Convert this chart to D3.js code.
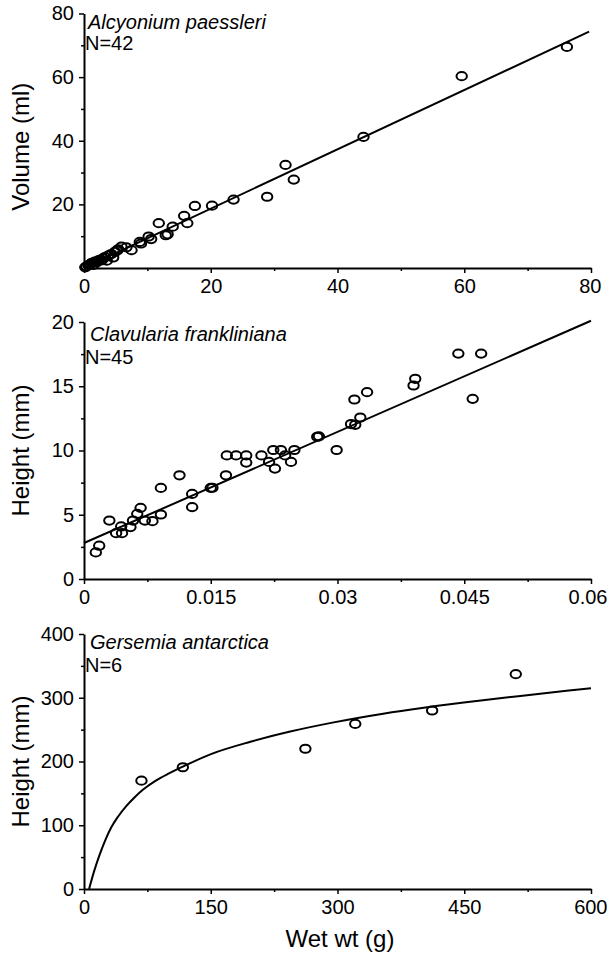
<!DOCTYPE html>
<html>
<head>
<meta charset="utf-8">
<script src="https://cdn.jsdelivr.net/npm/d3@7/dist/d3.min.js"></script>
<style>
  html, body { margin: 0; padding: 0; background: #fff; }
  svg { display: block; }
  text { font-family: "Liberation Sans", Arial, Helvetica, sans-serif; fill: #000; }
</style>
</head>
<body>
<svg id="chart" width="608" height="955"></svg>
<script>
// ---------- DATA ----------
// Panel 1: Alcyonium paessleri (Wet wt g vs Volume ml)
const alcyoniumPoints = [
  [0.2,0.2],[0.4,0.5],[0.7,0.9],[1.0,1.2],[1.2,1.6],[1.5,1.0],[1.7,2.0],[2.0,1.8],
  [2.2,2.3],[2.5,2.6],[2.8,2.4],[3.0,3.0],[3.3,3.4],[3.6,2.3],[3.8,3.9],[4.3,4.4],
  [4.6,3.3],[4.9,5.1],[5.2,5.5],[5.4,5.9],[5.9,6.7],[6.7,6.5],[7.5,5.6],[8.8,8.2],
  [9.0,7.7],[10.2,9.9],[10.6,9.1],[11.8,14.1],[12.9,10.3],[13.2,10.6],[14.0,13.0],
  [15.8,16.4],[16.3,14.1],[17.5,19.5],[20.2,19.6],[23.6,21.5],[28.9,22.4],[31.8,32.4],
  [33.1,27.8],[44.1,41.2],[59.6,60.3],[76.2,69.5]
];
const alcyoniumFit = [[0,0],[79.7,74.3]];
const alcyoniumXTicks = [0,20,40,60,80];
const alcyoniumXMinor = [10,30,50,70];
const alcyoniumYTicks = [20,40,60,80];
const alcyoniumYMinor = [10,30,50,70];

// Panel 2: Clavularia frankliniana (Wet wt g vs Height mm)
const clavulariaPoints = [
  [0.0014,2.07],[0.0018,2.59],[0.0030,4.55],[0.0038,3.57],[0.0044,4.09],[0.0045,3.57],
  [0.0055,4.04],[0.0058,4.55],[0.0063,5.07],[0.0067,5.54],[0.0072,4.55],[0.0081,4.50],
  [0.0091,5.02],[0.0091,7.09],[0.0113,8.07],[0.0128,6.62],[0.0128,5.59],[0.0150,7.09],
  [0.0152,7.10],[0.0168,8.07],[0.0169,9.62],[0.0180,9.62],[0.0192,9.62],[0.0192,9.06],
  [0.0210,9.62],[0.0219,9.11],[0.0224,10.04],[0.0226,8.59],[0.0233,10.04],[0.0238,9.62],
  [0.0245,9.11],[0.0249,10.04],[0.0276,11.07],[0.0278,11.10],[0.0299,10.04],[0.0316,12.06],
  [0.0321,12.00],[0.0327,12.57],[0.0320,13.97],[0.0335,14.54],[0.0390,15.06],[0.0392,15.58],
  [0.0443,17.54],[0.0470,17.54],[0.0460,14.02]
];
const clavulariaFit = [[0,2.8],[0.06,20.1]];
const clavulariaXTicks = [0,0.015,0.03,0.045,0.06];
const clavulariaXLabels = ["0","0.015","0.03","0.045","0.06"];
const clavulariaXMinor = [0.0075,0.0225,0.0375,0.0525];
const clavulariaYTicks = [0,5,10,15,20];
const clavulariaYMinor = [2.5,7.5,12.5,17.5];

// Panel 3: Gersemia antarctica (Wet wt g vs Height mm)
const gersemiaPoints = [
  [68,170],[117,191],[262,220],[321,259],[412,280],[511,337]
];
const gersemiaFit = [
  [6,0],[12,28],[18,52],[25,76],[32,96],[40,113],[50,130],[60,144],[70,156],[85,170],
  [100,181],[117,192],[151,212],[197,231],[244,247],[294,261],[354,275],[400,284],
  [447,292],[511,302],[571,311],[600,315]
];
const gersemiaXTicks = [0,150,300,450,600];
const gersemiaXMinor = [75,225,375,525];
const gersemiaYTicks = [0,100,200,300,400];
const gersemiaYMinor = [50,150,250,350];

// ---------- DRAWING ----------
const svg = d3.select("#chart");
const X0 = 84, X1 = 591;

function panel(cfg) {
  const g = svg.append("g");
  const x = d3.scaleLinear().domain(cfg.xDomain).range([X0, X1]);
  const y = d3.scaleLinear().domain(cfg.yDomain).range([cfg.bottom, cfg.top]);

  const xAxis = d3.axisBottom(x).tickValues(cfg.xTicks).tickSize(5).tickPadding(6).tickSizeOuter(0)
    .tickFormat((d, i) => cfg.xLabels ? cfg.xLabels[i] : String(d));
  const yAxis = d3.axisLeft(y).tickValues(cfg.yTicks).tickSize(5).tickPadding(5).tickSizeOuter(0)
    .tickFormat(d => String(d));
  const xAxisMinor = d3.axisBottom(x).tickValues(cfg.xMinor).tickSize(3).tickSizeOuter(0).tickFormat("");
  const yAxisMinor = d3.axisLeft(y).tickValues(cfg.yMinor).tickSize(3).tickSizeOuter(0).tickFormat("");

  const gx = g.append("g").attr("transform", `translate(0,${cfg.bottom})`).call(xAxis);
  g.append("g").attr("transform", `translate(0,${cfg.bottom})`).call(xAxisMinor).select(".domain").remove();
  const gy = g.append("g").attr("transform", `translate(${X0},0)`).call(yAxis);
  g.append("g").attr("transform", `translate(${X0},0)`).call(yAxisMinor).select(".domain").remove();

  g.selectAll(".domain").attr("stroke", "#000").attr("stroke-width", 2);
  g.selectAll(".tick line").attr("stroke", "#000").attr("stroke-width", 1.5);
  g.selectAll(".tick text").style("font-size", "20px").style("font-family", '"Liberation Sans", Arial, sans-serif').attr("fill", "#000");
  // keep the last x label inside the page
  gx.selectAll(".tick text").filter((d, i, n) => i === n.length - 1)
    .attr("text-anchor", "end").attr("dx", cfg.lastLabelDx);

  const line = d3.line().x(d => x(d[0])).y(d => y(d[1]));
  if (cfg.curve) line.curve(d3.curveMonotoneX);
  g.append("path").datum(cfg.fit).attr("d", line)
    .attr("fill", "none").attr("stroke", "#000").attr("stroke-width", 2);

  g.selectAll("ellipse.pt").data(cfg.points).join("ellipse").attr("class", "pt")
    .attr("cx", d => x(d[0])).attr("cy", d => y(d[1]))
    .attr("rx", 5.2).attr("ry", 4.1)
    .attr("fill", "none").attr("stroke", "#000").attr("stroke-width", 2);

  g.append("text").attr("x", cfg.nameX).attr("y", cfg.top + cfg.nameDy)
    .style("font-size", "20px").style("font-style", "italic").text(cfg.name);
  g.append("text").attr("x", 85).attr("y", cfg.top + cfg.nDy)
    .style("font-size", "20px").text(cfg.n);

  g.append("text")
    .attr("transform", `translate(29,${(cfg.top + cfg.bottom) / 2 + cfg.titleShift}) rotate(-90)`)
    .attr("text-anchor", "middle").style("font-size", "24px").text(cfg.yTitle);
  return x;
}

panel({
  xDomain: [0, 80], yDomain: [0, 80], top: 13.5, bottom: 268,
  xTicks: alcyoniumXTicks, xMinor: alcyoniumXMinor, yTicks: alcyoniumYTicks, yMinor: alcyoniumYMinor,
  points: alcyoniumPoints, fit: alcyoniumFit, lastLabelDx: 10,
  name: "Alcyonium paessleri", n: "N=42", nameX: 88, nameDy: 15, nDy: 36,
  yTitle: "Volume (ml)", titleShift: 6
});
panel({
  xDomain: [0, 0.06], yDomain: [0, 20], top: 322, bottom: 579,
  xTicks: clavulariaXTicks, xLabels: clavulariaXLabels, xMinor: clavulariaXMinor,
  yTicks: clavulariaYTicks, yMinor: clavulariaYMinor,
  points: clavulariaPoints, fit: clavulariaFit, lastLabelDx: 16,
  name: "Clavularia frankliniana", n: "N=45", nameX: 90, nameDy: 19, nDy: 42,
  yTitle: "Height (mm)", titleShift: 0
});
panel({
  xDomain: [0, 600], yDomain: [0, 400], top: 634, bottom: 889,
  xTicks: gersemiaXTicks, xMinor: gersemiaXMinor, yTicks: gersemiaYTicks, yMinor: gersemiaYMinor,
  points: gersemiaPoints, fit: gersemiaFit, curve: true, lastLabelDx: 16,
  name: "Gersemia antarctica", n: "N=6", nameX: 90, nameDy: 15, nDy: 38,
  yTitle: "Height (mm)", titleShift: 0
});

svg.append("text").attr("x", 340).attr("y", 947).attr("text-anchor", "middle")
  .style("font-size", "24px").text("Wet wt (g)");
</script>
</body>
</html>
